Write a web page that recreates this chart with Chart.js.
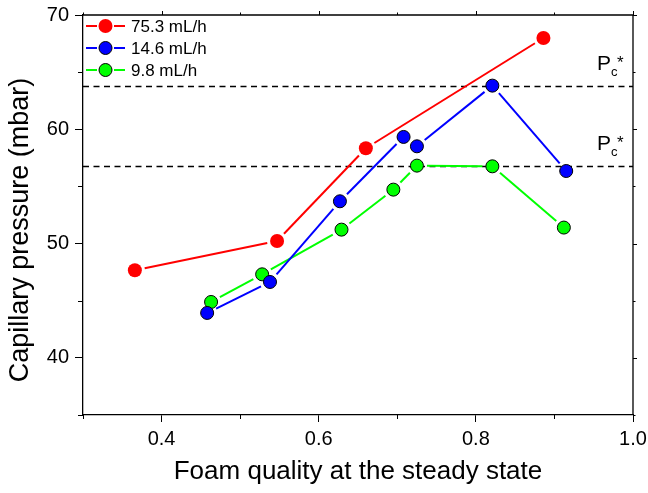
<!DOCTYPE html>
<html><head><meta charset="utf-8">
<script src="https://cdn.jsdelivr.net/npm/chart.js@4/dist/chart.umd.min.js"></script>
<style>html,body{margin:0;padding:0;background:#fff;}#wrap{width:648px;height:493px;}</style>
</head><body><div id="wrap"><canvas id="c" width="648" height="493"></canvas></div>
<script>
// ---- data ----
const seriesNames = ['75.3 mL/h', '14.6 mL/h', '9.8 mL/h'];
const redX   = [0.366, 0.547, 0.660, 0.886];
const redY   = [47.66, 50.23, 58.34, 67.99];
const blueX  = [0.458, 0.538, 0.627, 0.708, 0.725, 0.821, 0.915];
const blueY  = [43.93, 46.64, 53.70, 59.33, 58.51, 63.82, 56.35];
const greenX = [0.463, 0.528, 0.629, 0.695, 0.725, 0.821, 0.912];
const greenY = [44.89, 47.31, 51.22, 54.72, 56.82, 56.76, 51.40];
const criticalPressures = [63.82, 56.80];
const xTicks = [0.4, 0.6, 0.8, 1.0];
const xMinorTicks = [0.3, 0.5, 0.7, 0.9];
const yTicks = [40, 50, 60, 70];
const yMinorTicks = [35, 45, 55, 65];

const FONT = "'Liberation Sans', Arial, sans-serif";
const GAP = 10;

function pts(xs, ys) { return xs.map((x, i) => ({x: x, y: ys[i]})); }

const colors = ['#ff0000', '#0000ff', '#00ff00'];
const borders = ['#ff0000', '#000000', '#000000'];

const datasets = [pts(redX, redY), pts(blueX, blueY), pts(greenX, greenY)].map((d, i) => ({
  label: seriesNames[i],
  data: d,
  showLine: false,
  lineColor: colors[i],
  pointRadius: i === 0 ? 7 : 6.5,
  pointHoverRadius: i === 0 ? 7 : 6.5,
  pointBackgroundColor: colors[i],
  pointBorderColor: borders[i],
  pointBorderWidth: i === 0 ? 0 : 1,
  backgroundColor: colors[i],
  borderColor: colors[i]
}));

const decor = {
  id: 'decor',
  beforeDatasetsDraw(chart) {
    const ctx = chart.ctx, a = chart.chartArea, ys = chart.scales.y;
    ctx.save();
    ctx.strokeStyle = '#000'; ctx.lineWidth = 1.3; ctx.setLineDash([6, 4.5]);
    criticalPressures.forEach(v => {
      const py = Math.round(ys.getPixelForValue(v)) + 0.5;
      ctx.beginPath(); ctx.moveTo(a.left, py); ctx.lineTo(a.right, py); ctx.stroke();
    });
    ctx.restore();
    chart.data.datasets.slice().reverse().forEach((ds) => {
      const i = chart.data.datasets.indexOf(ds);
      const meta = chart.getDatasetMeta(i);
      ctx.save(); ctx.strokeStyle = ds.lineColor; ctx.lineWidth = 2;
      for (let k = 0; k < meta.data.length - 1; k++) {
        const p = meta.data[k], q = meta.data[k + 1];
        const dx = q.x - p.x, dy = q.y - p.y, L = Math.hypot(dx, dy);
        if (L < 2 * GAP + 1) continue;
        const ux = dx / L, uy = dy / L;
        ctx.beginPath();
        ctx.moveTo(p.x + ux * GAP, p.y + uy * GAP);
        ctx.lineTo(q.x - ux * GAP, q.y - uy * GAP);
        ctx.stroke();
      }
      ctx.restore();
    });
  },
  afterDraw(chart) {
    const ctx = chart.ctx, a = chart.chartArea, xs = chart.scales.x, ys = chart.scales.y;
    ctx.save();
    ctx.strokeStyle = '#000'; ctx.lineWidth = 1.3;
    ctx.beginPath();
    ctx.moveTo(a.left, a.top); ctx.lineTo(a.right, a.top); ctx.lineTo(a.right, a.bottom);
    ctx.stroke();
    ctx.lineWidth = 1;
    xMinorTicks.forEach(v => {
      const px = Math.round(xs.getPixelForValue(v)) + 0.5;
      ctx.beginPath(); ctx.moveTo(px, a.bottom); ctx.lineTo(px, a.bottom + 4); ctx.stroke();
    });
    yMinorTicks.forEach(v => {
      const py = Math.round(ys.getPixelForValue(v)) + 0.5;
      ctx.beginPath(); ctx.moveTo(a.left, py); ctx.lineTo(a.left - 5, py); ctx.stroke();
    });
    xTicks.concat(xMinorTicks).forEach(v => {
      const px = Math.round(xs.getPixelForValue(v)) + 0.5;
      const len = xTicks.includes(v) ? 4 : 2.5;
      ctx.beginPath(); ctx.moveTo(px, a.top); ctx.lineTo(px, a.top - len); ctx.stroke();
    });
    yTicks.concat(yMinorTicks).forEach(v => {
      const py = Math.round(ys.getPixelForValue(v)) + 0.5;
      const len = yTicks.includes(v) ? 4 : 2.5;
      ctx.beginPath(); ctx.moveTo(a.right, py); ctx.lineTo(a.right + len, py); ctx.stroke();
    });
    ctx.fillStyle = '#000';
    ctx.textBaseline = 'alphabetic'; ctx.textAlign = 'left';
    criticalPressures.forEach(v => {
      const py = ys.getPixelForValue(v);
      const base = py - 16;
      ctx.font = '21px ' + FONT; ctx.fillText('P', 597, base);
      ctx.font = '13px ' + FONT; ctx.fillText('c', 611, base + 6);
      ctx.font = '17px ' + FONT; ctx.fillText('*', 617, base - 2);
    });
    chart.data.datasets.forEach((ds, i) => {
      const y = 26 + i * 22;
      ctx.strokeStyle = ds.lineColor; ctx.lineWidth = 2;
      ctx.beginPath(); ctx.moveTo(86, y); ctx.lineTo(97, y); ctx.moveTo(114, y); ctx.lineTo(125, y); ctx.stroke();
      ctx.beginPath(); ctx.arc(105.5, y, ds.pointRadius, 0, Math.PI * 2);
      ctx.fillStyle = ds.pointBackgroundColor; ctx.fill();
      if (ds.pointBorderWidth > 0) { ctx.lineWidth = 1; ctx.strokeStyle = '#000'; ctx.stroke(); }
      ctx.fillStyle = '#000'; ctx.font = '17px ' + FONT; ctx.textBaseline = 'middle';
      ctx.fillText(ds.label, 131, y + 1);
    });
    ctx.restore();
  }
};

new Chart(document.getElementById('c'), {
  type: 'scatter',
  data: { datasets: datasets },
  plugins: [decor],
  options: {
    responsive: false,
    animation: false,
    devicePixelRatio: 1,
    layout: { padding: { top: 15, right: 15, left: 0, bottom: 0 } },
    plugins: { legend: { display: false }, tooltip: { enabled: false } },
    scales: {
      x: {
        type: 'linear', min: 0.3, max: 1.0, position: 'bottom',
        afterBuildTicks: s => { s.ticks = xTicks.map(v => ({ value: v })); },
        afterFit: s => { s.height = 78; s.paddingLeft = 0; s.paddingRight = 0; },
        ticks: { font: { family: FONT, size: 20 }, color: '#000', padding: 5, maxRotation: 0, autoSkip: false,
                 callback: v => Number(v).toFixed(1) },
        grid: { drawOnChartArea: false, drawTicks: true, tickLength: 7, color: '#000', tickWidth: 1 },
        border: { display: true, color: '#000', width: 1.3 },
        title: { display: true, text: 'Foam quality at the steady state', color: '#000',
                 font: { family: FONT, size: 26 }, padding: { top: 0, bottom: 6 } }
      },
      y: {
        type: 'linear', min: 35, max: 70, position: 'left',
        afterBuildTicks: s => { s.ticks = yTicks.map(v => ({ value: v })); },
        afterFit: s => { s.width = 83; s.paddingTop = 0; s.paddingBottom = 0; },
        ticks: { font: { family: FONT, size: 20 }, color: '#000', padding: 6, autoSkip: false,
                 callback: v => String(v) },
        grid: { drawOnChartArea: false, drawTicks: true, tickLength: 8, color: '#000', tickWidth: 1 },
        border: { display: true, color: '#000', width: 1.3 },
        title: { display: true, text: 'Capillary pressure (mbar)    ', color: '#000',
                 font: { family: FONT, size: 27 }, padding: { top: 4, bottom: 0 } }
      }
    }
  }
});
</script>
</body></html>
